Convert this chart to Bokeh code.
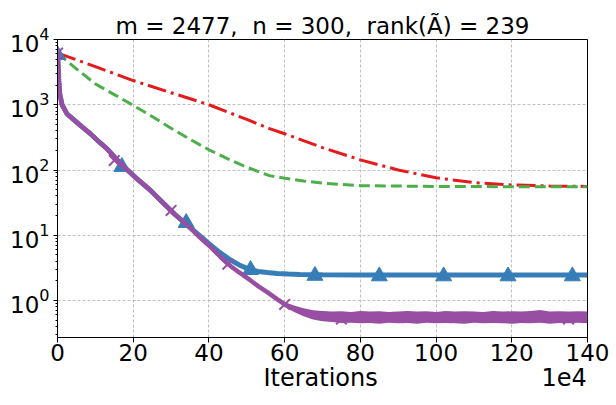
from bokeh.plotting import figure
from bokeh.models import Range1d, FixedTicker, LinearAxis
from bokeh.embed import file_html
from bokeh.resources import INLINE

# ---------------- data (x in units of 1e4 iterations) ----------------
x_ticks = [0, 20, 40, 60, 80, 100, 120, 140]
title_text = "m = 2477,\u00a0 n = 300,\u00a0 rank(Ã) = 239"
x_label = "Iterations"
x_offset_text = "1e4"

red_x = [0, 10, 20, 30, 40, 50, 56, 60, 70, 80, 90, 100, 110, 120, 130, 140]
red_y = [6200, 3850, 2350, 1530, 1000, 595, 430, 360, 220, 143, 100, 76, 64, 59, 57, 56]

green_x = [0, 5, 10, 15, 20, 25, 30, 35, 40, 45, 50, 56, 60, 65, 70, 80, 100, 120, 140]
green_y = [6200, 3550, 2090, 1430, 980, 660, 437, 295, 204, 148, 110, 82, 75, 68, 63, 57.5,
           56, 55.5, 55.2]

blue_x = [0, 0.1, 0.35, 0.6, 1.2, 2.5, 4.3, 6.5, 8.7, 11, 13.1, 16.6, 21, 24.6, 28, 31, 34,
          37, 40, 43, 45.7, 48, 51, 53, 55.4, 58, 61, 64, 70, 80, 90, 100, 110, 120, 130, 140]
blue_y = [6200, 5250, 2340, 1480, 1000, 724, 589, 457, 359, 269, 211, 126, 73.3, 48.5, 30.9,
          20.9, 14.8, 10.5, 7.41, 5.37, 4.17, 3.51, 2.95, 2.79, 2.69, 2.60, 2.54, 2.51, 2.48,
          2.46, 2.45, 2.46, 2.45, 2.45, 2.46, 2.45]
blue_mx = [0, 17, 34, 51, 68, 85, 102, 119, 136]
blue_my = [5800, 112, 15.5, 2.95, 2.4, 2.36, 2.36, 2.36, 2.36]

purple_x = [0, 0.1, 0.35, 0.6, 1.2, 2.5, 4.3, 6.5, 8.7, 11, 13.1, 16.6, 21, 24.6, 28, 31, 34,
            37, 40, 43, 45, 48, 51, 53, 55.4, 58, 60, 62, 64.2, 66.8, 68.6, 71.3, 74.7, 80,
            90, 100, 110, 120, 130, 140]
purple_y = [6200, 5250, 2340, 1480, 1000, 724, 589, 457, 359, 269, 211, 126, 73.3, 48.5, 30.9,
            20.9, 14.8, 10.0, 6.97, 4.68, 3.63, 2.69, 2.03, 1.66, 1.34, 1.05, 0.871, 0.767,
            0.686, 0.617, 0.589, 0.569, 0.556, 0.556, 0.553, 0.556, 0.552, 0.555, 0.556, 0.553]
purple_mx = [0, 15, 30, 45, 60, 75, 90, 105, 120, 135]
purple_my = [6200, 140, 24, 3.6, 0.87, 0.52, 0.55, 0.55, 0.55, 0.52]

# noisy plateau band of the purple run (upper / lower envelopes)
band_x = [60, 62.5, 65, 67.5, 70, 72.5, 75, 77.5, 80, 82.5, 85, 87.5, 90, 92.5, 95, 97.5, 100,
          102.5, 105, 107.5, 110, 112.5, 115, 117.5, 120, 122.5, 125, 127.5, 130, 132.5, 135,
          137.5, 140]
band_hi = [0.944, 0.841, 0.759, 0.708, 0.692, 0.676, 0.684, 0.668, 0.692, 0.676, 0.684, 0.668,
           0.676, 0.692, 0.676, 0.684, 0.668, 0.692, 0.676, 0.684, 0.676, 0.668, 0.692, 0.676,
           0.684, 0.676, 0.692, 0.716, 0.676, 0.684, 0.676, 0.684, 0.676]
band_lo = [0.804, 0.668, 0.575, 0.513, 0.479, 0.468, 0.452, 0.457, 0.447, 0.452, 0.442, 0.457,
           0.447, 0.452, 0.442, 0.457, 0.447, 0.452, 0.447, 0.442, 0.457, 0.447, 0.452, 0.447,
           0.442, 0.452, 0.447, 0.457, 0.442, 0.452, 0.447, 0.457, 0.447]

RED, GREEN, BLUE, PURPLE = "#e41a1c", "#4daf4a", "#377eb8", "#984ea3"
FONT = "DejaVu Sans"

p = figure(width=612, height=402, x_range=Range1d(0, 140), y_range=Range1d(0.271, 1e4),
           y_axis_type="log", output_backend="svg", toolbar_location=None, title=title_text,
           min_border_left=57, min_border_right=25, min_border_top=39, min_border_bottom=65)
p.background_fill_color = "white"
p.border_fill_color = "white"
p.outline_line_color = "black"
p.outline_line_width = 1

p.title.text_font = FONT
p.title.text_font_size = "23px"
p.title.text_font_style = "normal"
p.title.text_color = "black"
p.title.align = "center"
p.title.standoff = 1

# grid
for g in (p.xgrid, p.ygrid):
    g.grid_line_color = "#b0b0b0"
    g.grid_line_dash = "3 2"
    g.grid_line_width = 0.8

# axes
p.xaxis.ticker = FixedTicker(ticks=x_ticks)
for ax in (p.xaxis, p.yaxis):
    ax.axis_line_color = "black"
    ax.major_tick_line_color = "black"
    ax.major_label_text_font = FONT
    ax.major_label_text_font_size = "23px"
    ax.major_label_text_color = "black"
p.xaxis.minor_tick_line_color = None
p.xaxis.major_tick_out = 5
p.xaxis.major_tick_in = 0
p.xaxis.major_label_standoff = 1
p.yaxis.major_tick_out = 4
p.yaxis.major_tick_in = 0
p.yaxis.minor_tick_out = 2
p.yaxis.minor_tick_in = 0
p.yaxis.minor_tick_line_color = "black"
p.yaxis.major_label_standoff = 4

# second, bare axis below: carries the axis title and the matplotlib-style offset text
label_pos = 69.5      # centre of "Iterations"
offset_pos = 133.8    # "1e4" ends at the right edge of the frame
ax2 = LinearAxis(ticker=FixedTicker(ticks=[label_pos, offset_pos]),
                 major_label_overrides={label_pos: x_label, offset_pos: x_offset_text})
ax2.axis_line_color = None
ax2.major_tick_line_color = None
ax2.minor_tick_line_color = None
ax2.major_tick_out = 0
ax2.major_tick_in = 0
ax2.major_label_standoff = 0
ax2.major_label_text_font = FONT
ax2.major_label_text_font_size = "24px"
ax2.major_label_text_color = "black"
p.add_layout(ax2, "below")

# series
p.line(red_x, red_y, line_color=RED, line_width=3, line_dash="19 5 3 5")
p.line(green_x, green_y, line_color=GREEN, line_width=3, line_dash="11 5")
p.line(blue_x, blue_y, line_color=BLUE, line_width=5)
p.scatter(blue_mx, blue_my, marker="triangle", size=16, fill_color=BLUE, line_color=BLUE)
p.varea(x=band_x, y1=band_lo, y2=band_hi, fill_color=PURPLE)
p.line(purple_x, purple_y, line_color=PURPLE, line_width=4.5)
p.scatter(purple_mx, purple_my, marker="x", size=15, line_color=PURPLE, line_width=2)

open("out.html", "w").write(file_html(p, INLINE))
